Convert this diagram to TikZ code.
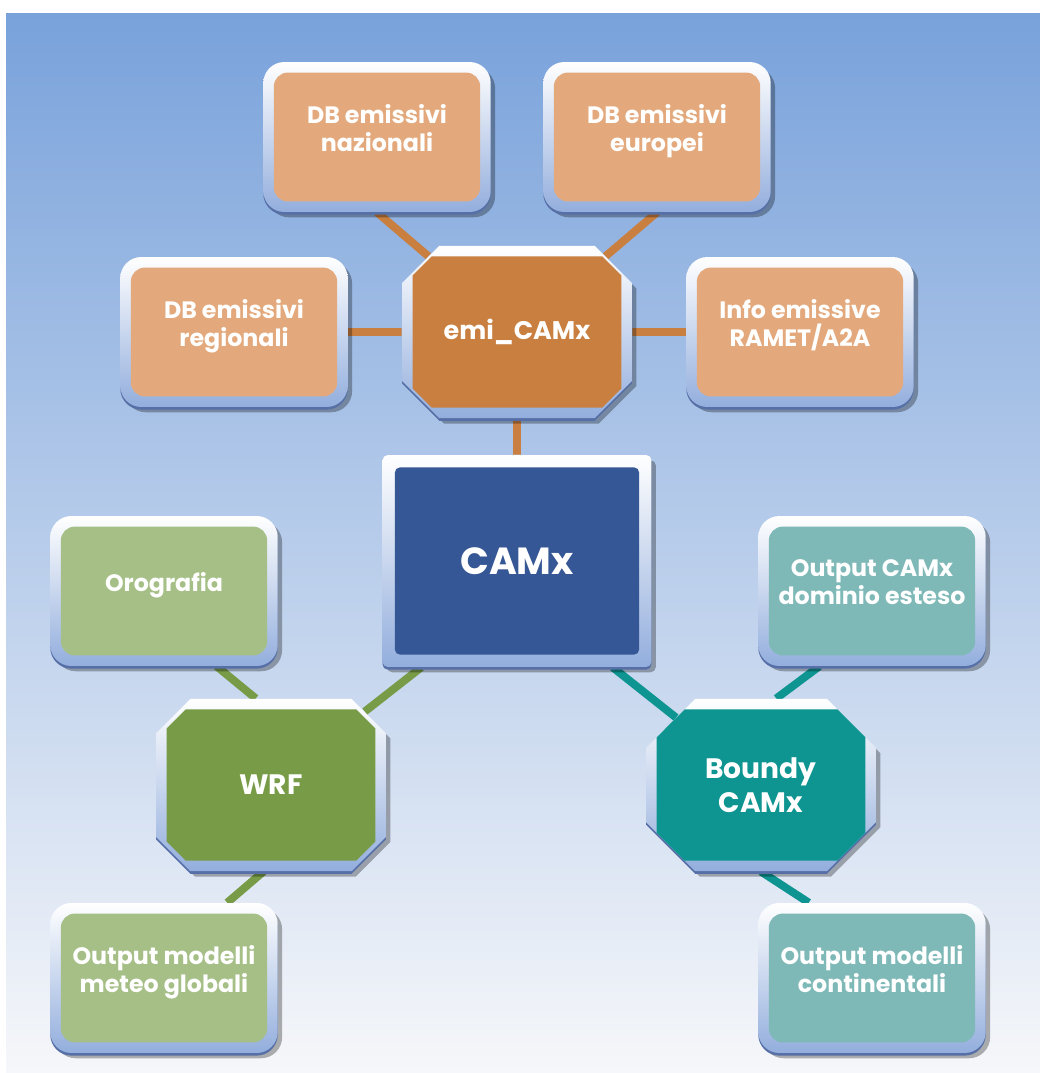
\documentclass[tikz,border=0pt]{standalone}
\usepackage{fontspec}
\setmainfont{Poppins}
\usetikzlibrary{shapes.misc,shadows,backgrounds,calc}

\definecolor{bgtop}{HTML}{79A2DB}
\definecolor{bgmid}{HTML}{C3D2EC}
\definecolor{bgbottom}{HTML}{F6F7FA}
\definecolor{framelow}{HTML}{93AEDD}
\definecolor{frameedge}{HTML}{566FA6}
\definecolor{softorange}{HTML}{E3A97C}
\definecolor{deeporange}{HTML}{C97F3F}
\definecolor{camxblue}{HTML}{365795}
\definecolor{softgreen}{HTML}{A5BF87}
\definecolor{deepgreen}{HTML}{789B48}
\definecolor{softteal}{HTML}{7EB9B8}
\definecolor{deepteal}{HTML}{0E9592}

\tikzset{
  framed/.style={top color=white, bottom color=framelow,
    drop shadow={shadow xshift=2.5pt, shadow yshift=-3pt, opacity=.3, fill=black},
    general shadow={shadow yshift=-1.5pt, fill=frameedge},
    text=white, align=center},
  % rounded input boxes
  inbox/.style={framed, rectangle, rounded corners=12pt,
    minimum width=4.55cm, minimum height=3cm, text depth=10pt,
    font=\bfseries\fontsize{13.5}{16}\selectfont,
    path picture={\fill[#1, rounded corners=8pt]
      ([shift={(6pt,6pt)}]path picture bounding box.south west) rectangle
      ([shift={(-6pt,-6pt)}]path picture bounding box.north east);}},
  % octagonal model boxes
  model/.style={framed, chamfered rectangle, chamfered rectangle xsep=14pt,
    chamfered rectangle ysep=14pt, inner sep=0pt,
    minimum width=4.6cm, minimum height=3.45cm,
    font=\bfseries\fontsize{16}{19}\selectfont,
    path picture={\fill[#1] let \p1=(path picture bounding box.south west),
        \p2=(path picture bounding box.north east) in
      (\x1+17pt,\y1+6pt) -- (\x2-17pt,\y1+6pt) -- (\x2-6pt,\y1+17pt) --
      (\x2-6pt,\y2-17pt) -- (\x2-17pt,\y2-6pt) -- (\x1+17pt,\y2-6pt) --
      (\x1+6pt,\y2-17pt) -- (\x1+6pt,\y1+17pt) -- cycle;}},
  link/.style={line width=4.5pt, draw=#1}
}

\begin{document}
\begin{tikzpicture}[x=0.02cm, y=-0.02cm]

    \useasboundingbox (0,0) rectangle (1040,1073);

    % Emission inputs
    \node[inbox=softorange] (naz) at (377,137) {DB emissivi\\nazionali};
    \node[inbox=softorange] (eur) at (657,137) {DB emissivi\\europei};
    \node[inbox=softorange] (reg) at (234,332) {DB emissivi\\regionali};
    \node[inbox=softorange] (info) at (800,332) {Info emissive\\RAMET/A2A};
    \node[model=deeporange, font=\bfseries\fontsize{14.5}{17}\selectfont] (emi) at (517,332) {emi\_CAMx};

    % Central model
    \node[framed, rectangle, rounded corners=3pt, minimum width=5.38cm, minimum height=4.24cm,
      font=\bfseries\fontsize{21.5}{24}\selectfont,
      path picture={\fill[camxblue]
        ([shift={(7pt,7pt)}]path picture bounding box.south west) rectangle
        ([shift={(-7pt,-7pt)}]path picture bounding box.north east);}]
      (camx) at (517,561) {CAMx};

    % Meteorology branch
    \node[inbox=softgreen] (oro) at (164,591) {Orografia};
    \node[model=deepgreen] (wrf) at (271,785) {WRF};
    \node[inbox=softgreen] (glob) at (164,978) {Output modelli\\meteo globali};

    % Boundary conditions branch
    \node[inbox=softteal] (dom) at (872,591) {Output CAMx\\dominio esteso};
    \node[model=deepteal] (bnd) at (761,785) {Boundy\\CAMx};
    \node[inbox=softteal] (cont) at (872,978) {Output modelli\\continentali};

    \begin{pgfonlayer}{background}
      % Backdrop
      \fill[white] (0,0) rectangle (1040,1073);
      \shade[top color=bgtop, middle color=bgmid, bottom color=bgbottom] (6,13) rectangle (1040,1073);

      % Connectors
      \draw[link=deeporange] (naz.south) -- (emi);
      \draw[link=deeporange] (eur.south) -- (emi);
      \draw[link=deeporange] (reg) -- (emi);
      \draw[link=deeporange] (info) -- (emi);
      \draw[link=deeporange] (emi) -- (camx);
      \draw[link=deepgreen] (camx.228) -- (wrf);
      \draw[link=deepgreen] (oro.-55) -- (wrf.100);
      \draw[link=deepgreen] (wrf.-95) -- (glob.50);
      \draw[link=deepteal] (camx.-48) -- (bnd);
      \draw[link=deepteal] (dom.-125) -- (bnd.80);
      \draw[link=deepteal] (bnd.-90) -- (cont.130);
    \end{pgfonlayer}
\end{tikzpicture}
\end{document}
